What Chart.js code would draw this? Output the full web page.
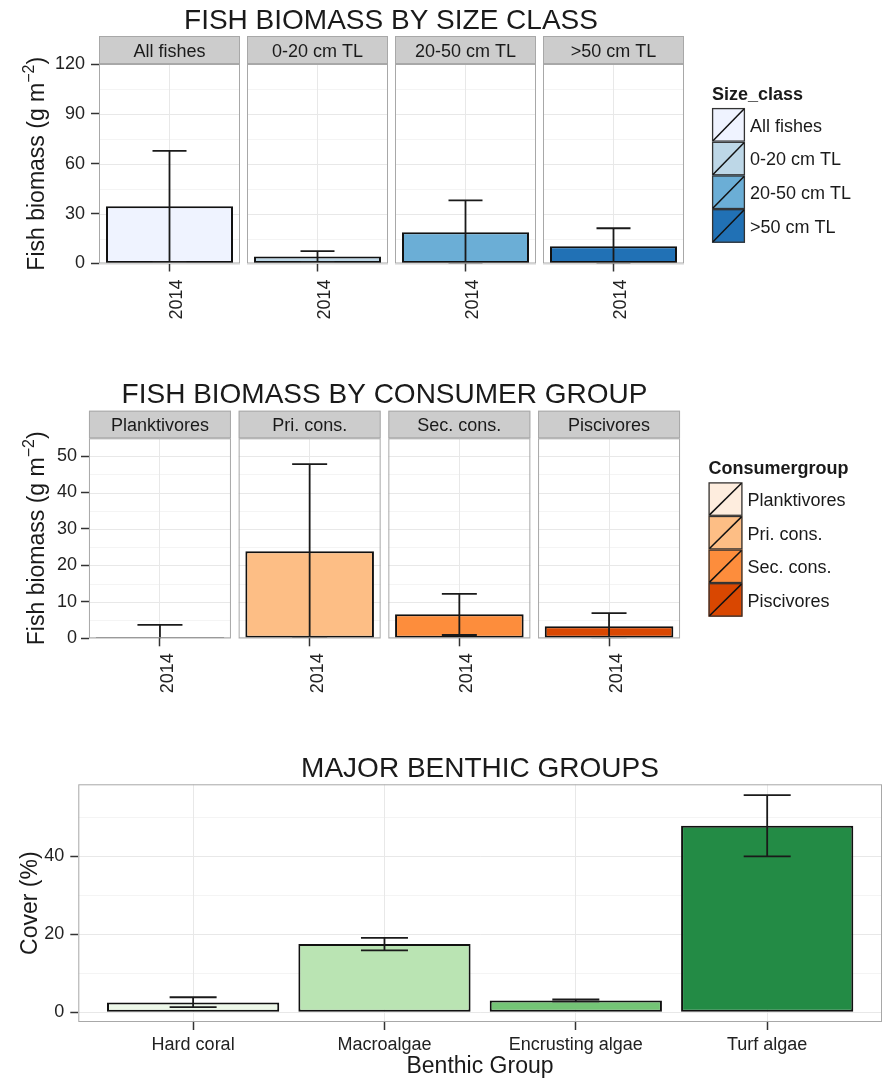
<!DOCTYPE html>
<html>
<head>
<meta charset="utf-8">
<script src="https://cdn.jsdelivr.net/npm/chart.js@4.4.1/dist/chart.umd.min.js"></script>
<style>
html,body{margin:0;padding:0;background:#fff;}
#wrap{position:relative;width:886px;height:1081px;overflow:hidden;background:#fff;}
canvas{position:absolute;left:0;}
</style>
</head>
<body>
<div id="wrap">
<canvas id="c1" width="886" height="340" style="top:0px"></canvas>
<canvas id="c2" width="886" height="370" style="top:340px"></canvas>
<canvas id="c3" width="886" height="371" style="top:710px"></canvas>
</div>
<script>
// ---------------- DATA ----------------
const yearLabel = '2014';

const sizeClasses = ['All fishes', '0-20 cm TL', '20-50 cm TL', '>50 cm TL'];
const sizeMean  = [34.4, 4.2, 18.8, 10.4];
const sizeUpper = [67.8, 7.4, 38.0, 21.2];
const sizeLower = [1.0, 1.0, -0.4, -0.4];
const sizeColors = ['#EFF3FF', '#BDD7E7', '#6BAED6', '#2171B5'];
const sizeTicks = [0, 30, 60, 90, 120];

const consumerGroups = ['Planktivores', 'Pri. cons.', 'Sec. cons.', 'Piscivores'];
const consMean  = [0.35, 23.9, 6.6, 3.3];
const consUpper = [3.7, 47.8, 12.2, 6.9];
const consLower = [-3.0, 0.3, 0.9, -0.3];
const consColors = ['#FEEDDE', '#FDBE85', '#FD8D3C', '#D94701'];
const consTicks = [0, 10, 20, 30, 40, 50];

const benthicGroups = ['Hard coral', 'Macroalgae', 'Encrusting algae', 'Turf algae'];
const benthicMean  = [2.5, 17.5, 3.0, 47.8];
const benthicUpper = [3.85, 19.1, 3.3, 55.7];
const benthicLower = [1.3, 15.9, 2.8, 40.0];
const benthicColors = ['#EDF8E9', '#BAE4B3', '#74C476', '#238B45'];
const benthicTicks = [0, 20, 40];

// ---------------- STYLE / HELPERS ----------------
const FONT = '"Liberation Sans", Arial, Helvetica, sans-serif';
Chart.defaults.font.family = FONT;
Chart.defaults.color = '#222';
Chart.defaults.animation = false;

function minorTicks(major, min, max) {
  const out = [];
  const step = major[1] - major[0];
  for (let v = major[0] - step / 2; v <= max; v += step) if (v >= min) out.push(v);
  return out;
}
function hline(ctx, x1, x2, y) { ctx.beginPath(); ctx.moveTo(x1, y); ctx.lineTo(x2, y); ctx.stroke(); }
function vline(ctx, x, y1, y2) { ctx.beginPath(); ctx.moveTo(x, y1); ctx.lineTo(x, y2); ctx.stroke(); }

function drawYTitle(ctx, t) {
  ctx.save();
  ctx.translate(t.x, t.y);
  ctx.rotate(-Math.PI / 2);
  ctx.fillStyle = '#1a1a1a';
  ctx.textBaseline = 'alphabetic';
  ctx.textAlign = 'left';
  const mainF = t.size + 'px ' + FONT;
  const supF = Math.round(t.size * 0.68) + 'px ' + FONT;
  ctx.font = mainF;
  const w1 = ctx.measureText(t.text).width;
  const w3 = t.after ? ctx.measureText(t.after).width : 0;
  ctx.font = supF;
  const w2 = t.sup ? ctx.measureText(t.sup).width : 0;
  let cx = -(w1 + w2 + w3) / 2;
  ctx.font = mainF; ctx.fillText(t.text, cx, 0); cx += w1;
  if (t.sup) { ctx.font = supF; ctx.fillText(t.sup, cx, -t.size * 0.45); cx += w2; }
  if (t.after) { ctx.font = mainF; ctx.fillText(t.after, cx, 0); }
  ctx.restore();
}

const decorPlugin = {
  id: 'decor',
  beforeDraw(chart, args, o) {
    const { ctx, chartArea: ca, scales: { x, y } } = chart;
    ctx.save();
    const panels = o.facets
      ? o.facets.map((lab, i) => { const cx = x.getPixelForValue(i); return { l: cx - o.halfWidth, r: cx + o.halfWidth, lab }; })
      : [{ l: ca.left, r: ca.right }];
    const minor = minorTicks(o.yMajor, y.min, y.max);
    panels.forEach(p => {
      ctx.fillStyle = '#fff';
      ctx.fillRect(p.l, ca.top, p.r - p.l, ca.bottom - ca.top);
      ctx.lineWidth = 1;
      ctx.strokeStyle = '#F4F4F4';
      minor.forEach(v => hline(ctx, p.l, p.r, Math.round(y.getPixelForValue(v)) + 0.5));
      ctx.strokeStyle = '#E8E8E8';
      o.yMajor.forEach(v => hline(ctx, p.l, p.r, Math.round(y.getPixelForValue(v)) + 0.5));
      if (p.lab) {
        const h = ca.top - o.stripTop;
        ctx.fillStyle = '#CCCCCC';
        ctx.fillRect(p.l, o.stripTop, p.r - p.l, h);
        ctx.strokeStyle = '#A8A8A8';
        ctx.strokeRect(p.l + 0.5, o.stripTop + 0.5, p.r - p.l - 1, h - 1);
        ctx.fillStyle = '#1a1a1a';
        ctx.font = '18px ' + FONT;
        ctx.textAlign = 'center';
        ctx.textBaseline = 'alphabetic';
        ctx.fillText(p.lab, (p.l + p.r) / 2, o.stripTop + h / 2 + 6.5);
      }
    });
    ctx.restore();
  },
  afterDatasetsDraw(chart, args, o) {
    const { ctx, chartArea: ca, scales: { x, y } } = chart;
    ctx.save();
    ctx.beginPath();
    ctx.rect(ca.left, ca.top, ca.right - ca.left, ca.bottom - ca.top);
    ctx.clip();
    ctx.strokeStyle = '#1a1a1a';
    ctx.lineWidth = 1.8;
    o.upper.forEach((u, i) => {
      const cx = x.getPixelForValue(i);
      const yu = y.getPixelForValue(u);
      const yl = y.getPixelForValue(o.lower[i]);
      const hw = o.capWidths[i] / 2;
      vline(ctx, cx, yu, yl);
      hline(ctx, cx - hw, cx + hw, yu);
      hline(ctx, cx - hw, cx + hw, yl);
    });
    ctx.restore();
    ctx.save();
    ctx.strokeStyle = '#A8A8A8';
    ctx.lineWidth = 1;
    const panels = o.facets
      ? o.facets.map((lab, i) => { const cx = x.getPixelForValue(i); return { l: cx - o.halfWidth, r: cx + o.halfWidth }; })
      : [{ l: ca.left, r: ca.right }];
    panels.forEach(p => ctx.strokeRect(p.l + 0.5, ca.top + 0.5, p.r - p.l - 1, ca.bottom - ca.top - 1));
    ctx.restore();
  },
  afterDraw(chart, args, o) {
    const { ctx } = chart;
    ctx.save();
    ctx.fillStyle = '#1a1a1a';
    ctx.font = '28px ' + FONT;
    ctx.textAlign = 'center';
    ctx.textBaseline = 'alphabetic';
    ctx.fillText(o.title.text, o.title.x, o.title.y);
    drawYTitle(ctx, o.yTitle);
    if (o.xTitle) {
      ctx.font = o.xTitle.size + 'px ' + FONT;
      ctx.fillStyle = '#1a1a1a';
      ctx.textAlign = 'center';
      ctx.fillText(o.xTitle.text, o.xTitle.x, o.xTitle.y);
    }
    if (o.legend) {
      const L = o.legend;
      ctx.textAlign = 'left';
      ctx.font = 'bold 18px ' + FONT;
      ctx.fillStyle = '#1a1a1a';
      ctx.fillText(L.title, L.x, L.keyTop - 8.5);
      L.labels.forEach((lab, i) => {
        const top = L.keyTop + i * L.keyH;
        ctx.fillStyle = L.colors[i];
        ctx.fillRect(L.x, top, L.keyW, L.keyH);
        ctx.strokeStyle = '#333';
        ctx.lineWidth = 1.3;
        ctx.strokeRect(L.x + 0.6, top + 0.6, L.keyW - 1.2, L.keyH - 1.2);
        ctx.strokeStyle = '#111';
        ctx.lineWidth = 1.5;
        ctx.beginPath();
        ctx.moveTo(L.x + 1, top + L.keyH - 1);
        ctx.lineTo(L.x + L.keyW - 1, top + 1);
        ctx.stroke();
        ctx.font = '18px ' + FONT;
        ctx.fillStyle = '#1a1a1a';
        ctx.fillText(lab, L.x + L.keyW + 5, top + L.keyH / 2 + 6.8);
      });
    }
    ctx.restore();
  }
};

function makeChart(id, g) {
  const data = g.mean.map((v, i) => ({ x: i, y: v }));
  return new Chart(document.getElementById(id), {
    type: 'bar',
    data: {
      datasets: [{
        data,
        backgroundColor: g.colors,
        borderColor: '#111',
        borderWidth: 2,
        borderSkipped: false,
        categoryPercentage: 1,
        barPercentage: g.barPct
      }]
    },
    plugins: [decorPlugin],
    options: {
      responsive: false,
      animation: false,
      events: [],
      layout: { autoPadding: false, padding: g.padding },
      scales: {
        x: {
          type: 'linear',
          offset: false,
          min: g.xMin, max: g.xMax,
          afterBuildTicks: s => { s.ticks = g.cats.map((c, i) => ({ value: i })); },
          afterFit: s => { s.height = g.xH; },
          border: { display: false },
          grid: { display: true, offset: false, drawOnChartArea: true, color: '#E8E8E8', lineWidth: 1, drawTicks: true, tickLength: 8, tickColor: '#333', tickWidth: 1.5 },
          ticks: {
            autoSkip: false,
            minRotation: g.rot, maxRotation: g.rot,
            padding: g.xPad,
            labelOffset: g.labelOffset,
            font: { size: 18 },
            color: '#222',
            callback: (v, i) => g.xLabels[i]
          }
        },
        y: {
          type: 'linear',
          min: g.yMin, max: g.yMax,
          afterBuildTicks: s => { s.ticks = g.yTicks.map(v => ({ value: v })); },
          afterFit: s => { s.width = 60; },
          border: { display: false },
          grid: { display: true, drawOnChartArea: false, drawTicks: true, tickLength: 8, tickColor: '#333', tickWidth: 1.5 },
          ticks: { padding: g.yPad, font: { size: 18 }, color: '#222', callback: v => String(v) }
        }
      },
      plugins: {
        legend: { display: false },
        title: { display: false },
        tooltip: { enabled: false },
        decor: {
          facets: g.facets, halfWidth: g.halfWidth, stripTop: g.stripTop,
          yMajor: g.yTicks,
          upper: g.upper, lower: g.lower, capWidths: g.capWidths,
          title: g.title, yTitle: g.yTitle, xTitle: g.xTitle, legend: g.legend
        }
      }
    }
  });
}

makeChart('c1', {
  cats: sizeClasses, mean: sizeMean, upper: sizeUpper, lower: sizeLower, colors: sizeColors,
  xLabels: sizeClasses.map(() => yearLabel),
  yTicks: sizeTicks, yMin: 0, yMax: 120,
  xMin: -0.4764, xMax: 3.4696,
  padding: { left: 39, right: 203, top: 64, bottom: 16.5 }, xH: 60,
  barPct: 0.858, rot: 90, xPad: 8, labelOffset: 8, yPad: 6,
  facets: sizeClasses, halfWidth: 70.5, stripTop: 36,
  capWidths: [34, 34, 34, 34],
  title: { text: 'FISH BIOMASS BY SIZE CLASS', x: 391, y: 28.5 },
  yTitle: { text: 'Fish biomass (g m', sup: '\u22122', after: ')', size: 23, x: 44, y: 163.75 },
  legend: { title: 'Size_class', labels: sizeClasses, colors: sizeColors, x: 712, keyTop: 108, keyW: 33, keyH: 33.7 }
});

makeChart('c2', {
  cats: consumerGroups, mean: consMean, upper: consUpper, lower: consLower, colors: consColors,
  xLabels: consumerGroups.map(() => yearLabel),
  yTicks: consTicks, yMin: 0, yMax: 54.87,
  xMin: -0.474, xMax: 3.474,
  padding: { left: 29, right: 206, top: 98.3, bottom: 11.7 }, xH: 60,
  barPct: 0.859, rot: 90, xPad: 7, labelOffset: 8, yPad: 4,
  facets: consumerGroups, halfWidth: 71, stripTop: 70.7,
  capWidths: [45, 35, 35, 35],
  title: { text: 'FISH BIOMASS BY CONSUMER GROUP', x: 384.5, y: 63.3 },
  yTitle: { text: 'Fish biomass (g m', sup: '\u22122', after: ')', size: 23, x: 44, y: 198.3 },
  legend: { title: 'Consumergroup', labels: consumerGroups, colors: consColors, x: 708.5, keyTop: 142.3, keyW: 34, keyH: 33.6 }
});

makeChart('c3', {
  cats: benthicGroups, mean: benthicMean, upper: benthicUpper, lower: benthicLower, colors: benthicColors,
  xLabels: benthicGroups,
  yTicks: benthicTicks, yMin: -2.49, yMax: 58.46,
  xMin: -0.6, xMax: 3.6,
  padding: { left: 18.3, right: 4, top: 74.3, bottom: 19 }, xH: 40,
  barPct: 0.9, rot: 0, xPad: 4, labelOffset: 0, yPad: 6,
  facets: null, halfWidth: 0, stripTop: 0,
  capWidths: [47, 47, 47, 47],
  title: { text: 'MAJOR BENTHIC GROUPS', x: 480, y: 67 },
  yTitle: { text: 'Cover (%)', size: 23, x: 37, y: 193.2 },
  xTitle: { text: 'Benthic Group', size: 23, x: 480, y: 363 },
  legend: null
});
</script>
</body>
</html>
